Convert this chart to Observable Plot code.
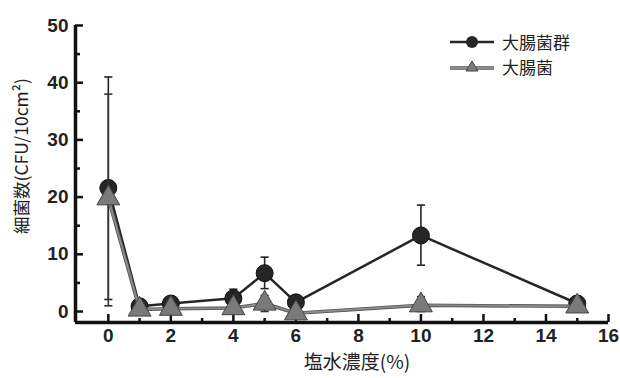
<!DOCTYPE html>
<html><head><meta charset="utf-8">
<script src="https://cdn.jsdelivr.net/npm/d3@7"></script>
<script src="https://cdn.jsdelivr.net/npm/@observablehq/plot@0.6"></script>
<style>
body{margin:0;background:#fff;}
#wrap{position:relative;width:620px;height:378px;font-family:"Liberation Sans","Noto Sans CJK JP",sans-serif;}
#legend{position:absolute;left:448px;top:29px;font-family:"Noto Sans CJK JP",sans-serif;font-size:17px;color:#222;line-height:17px;}
#legend div{display:flex;align-items:center;height:25px;}
#legend svg{margin-right:6px;}
</style></head><body>
<div id="wrap"><div id="legend"></div></div>
<script>
const concentrations = [0, 1, 2, 4, 5, 6, 10, 15];
const coliform = [21.6, 0.9, 1.4, 2.3, 6.7, 1.6, 13.3, 1.4];
const coliformLow = [2.1, null, null, 1.0, 4.0, null, 8.1, 0.5];
const coliformHigh = [41, null, null, 3.9, 9.5, null, 18.6, 2.6];
const ecoli = [19.8, 0.35, 0.5, 0.6, 1.4, -0.3, 1.1, 0.9];
const ecoliLow = [1.0, null, null, null, 0.0, null, 0.0, 0.0];
const ecoliHigh = [38, null, null, null, 2.8, null, 2.6, 2.4];
const yMajor = [0, 10, 20, 30, 40, 50];
const yMinor = [5, 15, 25, 35, 45];
const xMajor = [0, 2, 4, 6, 8, 10, 12, 14, 16];
const xMinor = [1, 3, 5, 7, 9, 11, 13, 15];
const seriesNames = ["大腸菌群", "大腸菌"];

const rowsC = concentrations.map((x, i) => ({x, y: coliform[i], lo: coliformLow[i], hi: coliformHigh[i]}));
const rowsE = concentrations.map((x, i) => ({x, y: ecoli[i], lo: ecoliLow[i], hi: ecoliHigh[i]}));
const errC = rowsC.filter(d => d.lo != null);
const errE = rowsE.filter(d => d.lo != null);
const cap = 0.13;
const capsOf = rows => rows.flatMap(d => [{x1: d.x - cap, x2: d.x + cap, y: d.lo}, {x1: d.x - cap, x2: d.x + cap, y: d.hi}]);

const dark = "#262626", gray = "#7a7a7a";
const tickFont = {fontSize: 19, fontFamily: "Liberation Sans, sans-serif", fontWeight: "bold"};
const cjk = "Noto Sans CJK JP, sans-serif";

const chart = Plot.plot({
  width: 620, height: 378,
  marginLeft: 75, marginRight: 12, marginTop: 25, marginBottom: 56,
  x: {domain: [-1.05, 16]},
  y: {domain: [-1.92, 50]},
  style: {color: "#222", background: "transparent"},
  marks: [
    Plot.axisY(yMajor, {tickSize: 0, tickPadding: 7, label: null, ...tickFont, fill: "#222"}),
    Plot.axisY(yMajor, {tickSize: -8, text: null, strokeWidth: 2.5, stroke: "#111", label: null}),
    Plot.axisY(yMinor, {tickSize: -5, text: null, strokeWidth: 2.5, stroke: "#111", label: null}),
    Plot.axisX(xMajor, {tickSize: 0, tickPadding: 6, label: null, ...tickFont, fill: "#222"}),
    Plot.axisX(xMajor, {tickSize: -8, text: null, strokeWidth: 2.5, stroke: "#111", label: null}),
    Plot.axisX(xMinor, {tickSize: -4, text: null, strokeWidth: 2.5, stroke: "#111", label: null}),
    Plot.ruleX([-1.05], {stroke: "#111", strokeWidth: 3.5}),
    Plot.ruleY([-1.92], {stroke: "#111", strokeWidth: 3.5}),
    // coliform
    Plot.ruleX(errC, {x: "x", y1: "lo", y2: "hi", stroke: dark, strokeWidth: 1.6}),
    Plot.link(capsOf(errC), {x1: "x1", x2: "x2", y1: "y", y2: "y", stroke: dark, strokeWidth: 1.6}),
    Plot.line(rowsC, {x: "x", y: "y", stroke: dark, strokeWidth: 2.5}),
    Plot.dot(rowsC, {x: "x", y: "y", r: 8.5, fill: dark, stroke: "#111", strokeWidth: 1}),
    // e. coli
    Plot.ruleX(errE, {x: "x", y1: "lo", y2: "hi", stroke: "#333", strokeWidth: 1.6}),
    Plot.link(capsOf(errE), {x1: "x1", x2: "x2", y1: "y", y2: "y", stroke: "#333", strokeWidth: 1.6}),
    Plot.line(rowsE, {x: "x", y: "y", stroke: "#555", strokeWidth: 3.5}),
    Plot.line(rowsE, {x: "x", y: "y", stroke: "#8c8c8c", strokeWidth: 1.8}),
    Plot.dot(rowsE, {x: "x", y: "y", symbol: "triangle", r: 8.5, fill: gray, stroke: "#444", strokeWidth: 1}),
    // axis labels
    Plot.text(["細菌数(CFU/10cm²)"], {frameAnchor: "left", textAnchor: "middle", dx: -53, dy: -18, rotate: -90, fontSize: 17.5, fontFamily: cjk, fill: "#222"}),
    Plot.text(["塩水濃度(%)"], {frameAnchor: "bottom", textAnchor: "middle", dx: 15, dy: 46, fontSize: 19, fontFamily: cjk, fill: "#222"})
  ]
});
document.getElementById("wrap").prepend(chart);

const legend = document.getElementById("legend");
legend.innerHTML = `
<div><svg width="48" height="18"><line x1="2" y1="9" x2="46" y2="9" stroke="${dark}" stroke-width="2.5"/><circle cx="24" cy="9" r="6" fill="${dark}"/></svg><span>${seriesNames[0]}</span></div>
<div><svg width="48" height="18"><line x1="2" y1="10" x2="46" y2="10" stroke="#555" stroke-width="3.5"/><line x1="2" y1="10" x2="46" y2="10" stroke="#8c8c8c" stroke-width="1.8"/><path d="M24,3 L30,13 L18,13 Z" fill="${gray}" stroke="#444"/></svg><span>${seriesNames[1]}</span></div>`;
</script>
</body></html>
